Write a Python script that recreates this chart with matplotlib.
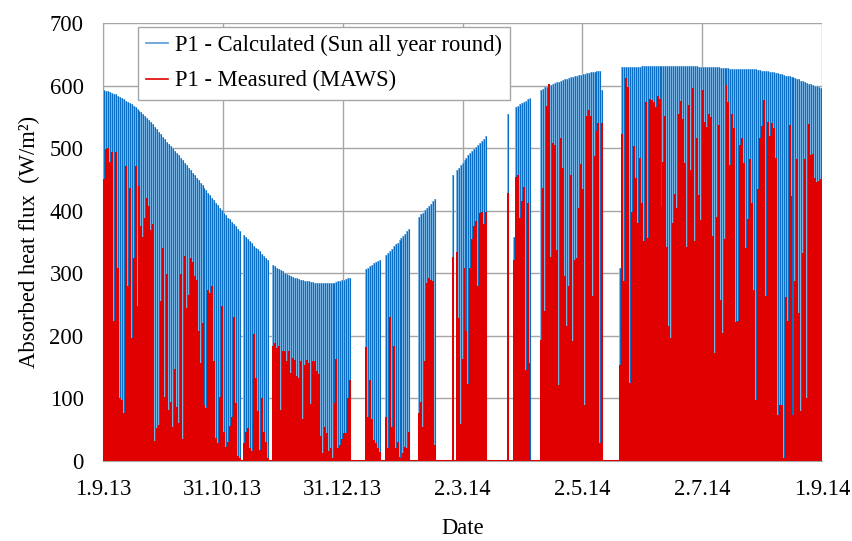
import numpy as np
import matplotlib
matplotlib.use("Agg")
import matplotlib.pyplot as plt
from matplotlib.lines import Line2D

plt.rcParams['font.family'] = ['Liberation Serif', 'DejaVu Serif']

# daily peak of absorbed heat flux (W/m2), day 0 = 1.9.2013, 0 = no data
calc_peak = [
    593, 592, 591, 590, 588, 587, 586, 584, 582, 580,
    578, 576, 574, 572, 570, 567, 565, 562, 560, 557,
    554, 551, 548, 545, 542, 538, 534, 530, 526, 522,
    518, 514, 510, 507, 503, 500, 496, 492, 489, 485,
    481, 477, 473, 469, 465, 461, 457, 453, 449, 445,
    441, 437, 433, 429, 425, 421, 417, 413, 409, 405,
    401, 397, 393, 389, 386, 382, 378, 375, 371, 368,
    0, 361, 358, 354, 351, 348, 344, 341, 338, 335,
    331, 328, 325, 322, 0, 0, 314, 311, 309, 307,
    305, 303, 301, 299, 297, 296, 294, 293, 292, 291,
    290, 289, 288, 287, 287, 286, 286, 285, 285, 285,
    284, 284, 284, 284, 284, 285, 285, 285, 286, 287,
    288, 289, 290, 291, 292, 293, 0, 0, 0, 0,
    0, 0, 0, 307, 309, 311, 314, 316, 318, 320,
    322, 0, 0, 330, 333, 336, 339, 343, 346, 349,
    353, 356, 360, 363, 367, 370, 0, 0, 0, 0,
    390, 394, 397, 401, 404, 408, 411, 415, 418, 0,
    0, 0, 0, 0, 0, 0, 0, 457, 0, 465,
    469, 473, 477, 481, 485, 489, 492, 495, 499, 502,
    505, 509, 512, 515, 519, 0, 0, 0, 0, 0,
    0, 0, 0, 0, 0, 555, 0, 0, 358, 566,
    568, 570, 572, 574, 576, 578, 580, 0, 0, 0,
    0, 0, 593, 595, 597, 598, 600, 601, 603, 604,
    605, 606, 607, 609, 610, 611, 612, 613, 614, 615,
    616, 617, 617, 618, 619, 620, 620, 621, 622, 622,
    623, 623, 624, 593, 0, 0, 0, 0, 0, 0,
    0, 0, 308, 629, 629, 630, 630, 630, 630, 630,
    630, 630, 630, 631, 631, 631, 631, 631, 631, 631,
    631, 631, 631, 631, 631, 631, 631, 631, 631, 631,
    631, 631, 631, 631, 631, 631, 631, 631, 631, 631,
    631, 631, 630, 630, 630, 630, 630, 630, 629, 629,
    629, 629, 629, 628, 628, 628, 628, 628, 627, 627,
    627, 627, 627, 627, 627, 626, 626, 626, 626, 626,
    626, 626, 625, 625, 624, 624, 623, 623, 622, 622,
    621, 620, 620, 619, 618, 617, 616, 616, 615, 614,
    613, 612, 611, 610, 608, 607, 606, 604, 603, 602,
    601, 600, 599, 597, 596,
]

meas_peak = [
    450, 498, 500, 478, 494, 223, 494, 308, 100, 98,
    77, 471, 279, 436, 197, 324, 471, 248, 440, 376,
    358, 388, 420, 408, 369, 379, 32, 53, 58, 255,
    340, 103, 299, 82, 95, 55, 147, 87, 60, 299,
    35, 328, 244, 265, 324, 318, 296, 289, 207, 157,
    221, 89, 84, 273, 268, 279, 160, 36, 28, 103,
    247, 47, 23, 31, 56, 71, 230, 92, 8, 4,
    0, 29, 47, 52, 20, 16, 203, 132, 80, 17,
    101, 47, 31, 4, 0, 0, 183, 188, 180, 183,
    82, 176, 176, 159, 175, 141, 165, 161, 136, 132,
    159, 67, 153, 161, 156, 91, 160, 160, 144, 139,
    40, 13, 54, 45, 16, 21, 5, 93, 163, 21,
    26, 35, 45, 45, 101, 129, 0, 0, 0, 0,
    0, 0, 0, 182, 70, 129, 67, 33, 28, 21,
    15, 0, 0, 70, 21, 230, 55, 183, 20, 31,
    6, 4, 13, 22, 20, 46, 0, 0, 0, 0,
    77, 95, 54, 160, 284, 292, 290, 288, 26, 0,
    0, 0, 0, 0, 0, 0, 0, 326, 0, 334,
    228, 59, 163, 308, 207, 123, 309, 354, 376, 384,
    279, 396, 398, 379, 398, 0, 0, 0, 0, 0,
    0, 0, 0, 0, 0, 428, 0, 0, 321, 454,
    457, 388, 416, 438, 145, 412, 157, 0, 0, 0,
    0, 0, 194, 436, 239, 567, 602, 326, 508, 505,
    337, 121, 516, 468, 296, 215, 279, 457, 192, 321,
    325, 404, 475, 434, 90, 551, 561, 551, 264, 487,
    528, 540, 28, 540, 0, 0, 0, 0, 0, 0,
    0, 0, 153, 522, 287, 612, 598, 124, 398, 503,
    452, 381, 485, 413, 352, 574, 357, 579, 577, 574,
    565, 583, 579, 407, 478, 551, 342, 216, 196, 380,
    427, 404, 555, 576, 546, 476, 342, 569, 465, 596,
    351, 516, 425, 385, 593, 541, 534, 555, 550, 359,
    172, 390, 537, 257, 205, 354, 601, 573, 473, 555,
    532, 222, 224, 505, 516, 477, 341, 386, 482, 412,
    274, 97, 434, 516, 535, 577, 264, 541, 519, 540,
    532, 485, 73, 90, 90, 5, 262, 224, 537, 423,
    73, 287, 482, 236, 80, 333, 482, 100, 539, 489,
    491, 453, 446, 448, 450,
]

date_labels = ['1.9.13', '31.10.13', '31.12.13', '2.3.14', '2.5.14', '2.7.14', '1.9.14']
n_days = 365

blue_dark = '#0a6fc4'
blue_light = '#86bce8'
red = '#e00000'
grid_col = '#a6a6a6'
fs = 16.3

calc = np.array(calc_peak, dtype=float)
meas = np.array(meas_peak, dtype=float)
days = np.arange(len(calc)) + 0.5

fig = plt.figure(figsize=(8.53, 5.41), dpi=100)
ax = fig.add_axes([0.1208, 0.1479, 0.8429, 0.8096])

# calculated: light fill between daily strokes + dark stroke per day
ax.bar(days, calc, width=1.0, color=blue_light, linewidth=0, zorder=2)
ax.vlines(days[calc > 0], 0, calc[calc > 0], color=blue_dark, lw=0.8, zorder=3)
# measured
ax.bar(days, meas, width=1.0, color=red, linewidth=0, zorder=4)
ax.axhline(0, color=red, lw=1.5, zorder=5)

ax.set_xlim(0, n_days)
ax.set_ylim(0, 700)
ax.set_yticks(np.arange(0, 701, 100))
ax.set_xticks(np.linspace(0, n_days, len(date_labels)))
ax.set_xticklabels(date_labels)
ax.tick_params(axis='both', length=0, labelsize=fs, colors='black')
ax.tick_params(axis='x', pad=13)
ax.tick_params(axis='y', pad=14)

ax.grid(True, color=grid_col, lw=1.0, zorder=0)
ax.set_axisbelow(True)
for side in ['top', 'right']:
    ax.spines[side].set_visible(False)
for side in ['left', 'bottom']:
    ax.spines[side].set_color(grid_col)

ax.set_xlabel('Date', fontsize=fs, labelpad=13)
ax.set_ylabel('Absorbed heat flux  (W/m²)', fontsize=fs, labelpad=7)

handles = [Line2D([], [], color='#5b9bd5', lw=1.2),
           Line2D([], [], color=red, lw=1.2)]
labels = ['P1 - Calculated (Sun all year round)', 'P1 - Measured (MAWS)']
leg = ax.legend(handles, labels, loc='upper left', bbox_to_anchor=(0.048, 0.991),
                fontsize=fs, frameon=True, fancybox=False, framealpha=1,
                edgecolor=grid_col, handlelength=1.0, handletextpad=0.3,
                labelspacing=0.62, borderpad=0.36, borderaxespad=0)
leg.get_frame().set_linewidth(1.0)
leg.set_zorder(10)

fig.savefig('out.png', dpi=100)
